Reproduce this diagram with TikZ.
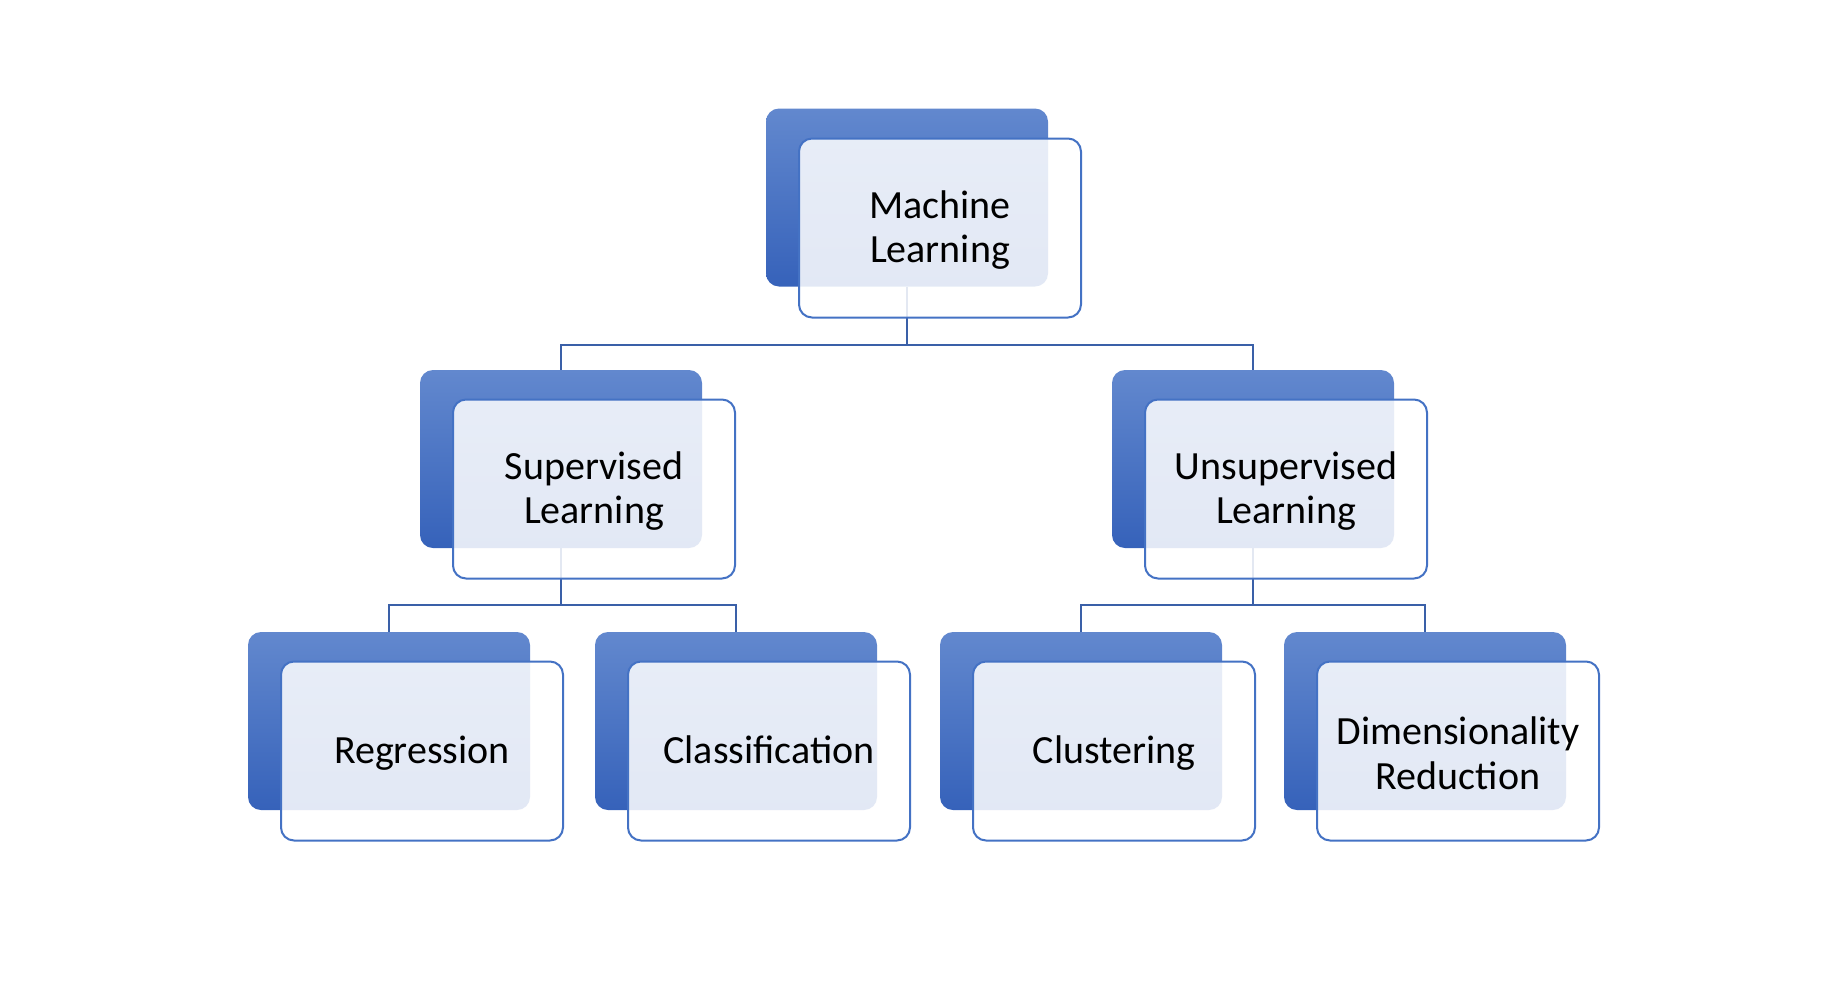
\documentclass[tikz,border=0pt]{standalone}
\usepackage{fontspec}
\setmainfont{Carlito}
\definecolor{backtop}{RGB}{98,136,206}
\definecolor{backbot}{RGB}{54,98,186}
\definecolor{frontline}{RGB}{68,114,196}
\definecolor{connline}{RGB}{58,96,168}
\tikzset{
  backbox/.style={rounded corners=13pt, minimum width=282pt, minimum height=178pt,
    top color=backtop, bottom color=backbot, draw=none, inner sep=0pt},
  frontbox/.style={rounded corners=13pt, minimum width=282pt, minimum height=179pt,
    draw=frontline, line width=2pt, fill=white, fill opacity=0.86, inner sep=0pt},
  boxtext/.style={align=center, font=\fontsize{40}{44.5}\selectfont, inner sep=0pt, yshift=-2pt},
  conn/.style={draw=connline, line width=2.2pt}
}
\begin{document}
\begin{tikzpicture}[x=1pt,y=-1pt]
\useasboundingbox (0,0) rectangle (1836,980);
% back boxes
\node[backbox] (mlb) at (907,197.5) {};
\node[backbox] (supb) at (561,459) {};
\node[backbox] (unsb) at (1253,459) {};
\node[backbox] (regb) at (389,721) {};
\node[backbox] (clab) at (736,721) {};
\node[backbox] (club) at (1081,721) {};
\node[backbox] (dimb) at (1425,721) {};
% connectors
\coordinate (j1) at (907,345);
\coordinate (j2) at (561,605);
\coordinate (j3) at (1253,605);
\draw[conn] (mlb.south) -- (mlb.south |- j1);
\draw[conn] (supb.north) |- (j1) -| (unsb.north);
\draw[conn] (supb.south) -- (supb.south |- j2);
\draw[conn] (regb.north) |- (j2) -| (clab.north);
\draw[conn] (unsb.south) -- (unsb.south |- j3);
\draw[conn] (club.north) |- (j3) -| (dimb.north);
% front boxes
\node[frontbox] (ml) at (940,228) {};
\node[frontbox] (sup) at (594,489) {};
\node[frontbox] (uns) at (1286,489) {};
\node[frontbox] (reg) at (422,751) {};
\node[frontbox] (cla) at (769,751) {};
\node[frontbox] (clu) at (1114,751) {};
\node[frontbox] (dim) at (1458,751) {};
% texts
\node[boxtext] (mlt) at (ml) {Machine\\Learning};
\node[boxtext] (supt) at (sup) {Supervised\\Learning};
\node[boxtext] (unst) at (uns) {Unsupervised\\Learning};
\node[boxtext] (regt) at (reg) {Regression};
\node[boxtext] (clat) at (cla) {Classification\vphantom{g}};
\node[boxtext] (clut) at (clu) {Clustering};
\node[boxtext] (dimt) at (dim) {Dimensionality\\Reduction};
\end{tikzpicture}
\end{document}
